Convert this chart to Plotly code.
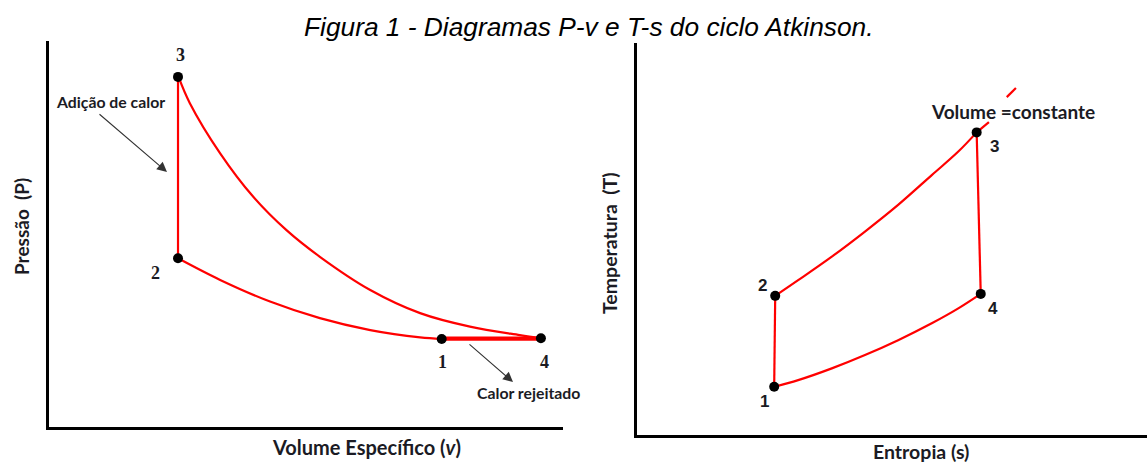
import plotly.graph_objects as go

W, H = 1147, 466

# ---------------- data (P-v diagram, arbitrary units 0..10) ----------------
pv_state_labels = ["1", "2", "3", "4"]
pv_state_v = [7.64, 2.51, 2.51, 9.57]
pv_state_p = [2.28, 4.37, 9.07, 2.30]

# 1 -> 2 isentropic compression
pv_comp_v = [2.51, 3.33, 4.30, 5.27, 6.25, 7.22, 7.64]
pv_comp_p = [4.37, 3.81, 3.25, 2.82, 2.51, 2.32, 2.28]
# 2 -> 3 constant volume heat addition
pv_heat_v = [2.51, 2.51]
pv_heat_p = [4.37, 9.07]
# 3 -> 4 isentropic expansion
pv_exp_v = [2.52, 2.74, 3.33, 3.97, 4.62, 5.27, 6.25, 7.22, 8.19, 9.16, 9.57]
pv_exp_p = [9.07, 8.39, 7.09, 5.97, 5.10, 4.41, 3.55, 2.95, 2.60, 2.38, 2.30]
# 4 -> 1 constant pressure heat rejection
pv_rej_v = [7.64, 9.57]
pv_rej_p = [2.29, 2.29]

# ---------------- data (T-s diagram, arbitrary units 0..10) ----------------
ts_state_labels = ["1", "2", "3", "4"]
ts_state_s = [2.69, 2.71, 6.66, 6.74]
ts_state_t = [1.23, 3.55, 7.72, 3.60]

ts_comp_s = [2.69, 2.71]
ts_comp_t = [1.23, 3.55]
ts_heat_s = [2.71, 3.16, 3.82, 4.47, 5.12, 5.78, 6.30, 6.66]
ts_heat_t = [3.55, 3.95, 4.55, 5.19, 5.87, 6.63, 7.23, 7.72]
ts_iso_ext_s = [6.66, 6.90]
ts_iso_ext_t = [7.72, 7.98]
ts_iso_dash_s = [7.25, 7.43]
ts_iso_dash_t = [8.62, 8.85]
ts_exp_s = [6.66, 6.74]
ts_exp_t = [7.72, 3.60]
ts_rej_s = [2.69, 3.16, 3.82, 4.47, 5.12, 5.78, 6.30, 6.74]
ts_rej_t = [1.23, 1.40, 1.70, 2.04, 2.42, 2.85, 3.23, 3.60]

RED = "#ff0000"
TXT = "#1b1b24"


def px(x):
    return x / W


def py(y):
    return 1 - y / H


fig = go.Figure()


def line(x, y, xa, ya, width=2.2, shape="spline"):
    fig.add_trace(go.Scatter(x=x, y=y, mode="lines", xaxis=xa, yaxis=ya,
                             line=dict(color=RED, width=width, shape=shape,
                                       smoothing=1.0),
                             hoverinfo="skip", showlegend=False))


# P-v
line(pv_comp_v, pv_comp_p, "x", "y")
line(pv_heat_v, pv_heat_p, "x", "y", shape="linear")
line(pv_exp_v, pv_exp_p, "x", "y")
line(pv_rej_v, pv_rej_p, "x", "y", width=4.2, shape="linear")
fig.add_trace(go.Scatter(x=pv_state_v, y=pv_state_p, mode="markers",
                         xaxis="x", yaxis="y",
                         marker=dict(color="black", size=10),
                         hoverinfo="skip", showlegend=False))

# T-s
line(ts_comp_s, ts_comp_t, "x2", "y2", shape="linear")
line(ts_heat_s, ts_heat_t, "x2", "y2")
line(ts_iso_ext_s, ts_iso_ext_t, "x2", "y2", shape="linear")
line(ts_iso_dash_s, ts_iso_dash_t, "x2", "y2", shape="linear")
line(ts_exp_s, ts_exp_t, "x2", "y2", shape="linear")
line(ts_rej_s, ts_rej_t, "x2", "y2")
fig.add_trace(go.Scatter(x=ts_state_s, y=ts_state_t, mode="markers",
                         xaxis="x2", yaxis="y2",
                         marker=dict(color="black", size=10),
                         hoverinfo="skip", showlegend=False))

ax_common = dict(showgrid=False, zeroline=False, showticklabels=False,
                 ticks="", linecolor="black", showline=True, mirror=False,
                 fixedrange=True)

fig.update_layout(
    width=W, height=H,
    margin=dict(l=0, r=0, t=0, b=0),
    paper_bgcolor="white", plot_bgcolor="white",
    xaxis=dict(domain=[px(49), px(563)], range=[0, 10], anchor="y",
               linewidth=2.6, **ax_common),
    yaxis=dict(domain=[py(427), py(41)], range=[0, 10], anchor="x",
               linewidth=2.6, **ax_common),
    xaxis2=dict(domain=[px(637), 1.0], range=[0, 10], anchor="y2",
                linewidth=3.4, **ax_common),
    yaxis2=dict(domain=[py(435), py(43)], range=[0, 10], anchor="x2",
                linewidth=3.4, **ax_common),
)

ann = []


def text(t, x, y, size, family="Lato", color=TXT, angle=0, bold=True,
         yanchor="middle"):
    ann.append(dict(text=("<b>%s</b>" % t) if bold else t,
                    x=px(x), y=py(y), xref="paper", yref="paper",
                    showarrow=False, xanchor="center", yanchor=yanchor,
                    textangle=angle,
                    font=dict(family=family, size=size, color=color)))


# title
ann.append(dict(text="<i>Figura 1 - Diagramas P-v e T-s do ciclo Atkinson.</i>",
                x=px(589), y=py(27), xref="paper", yref="paper",
                showarrow=False, xanchor="center", yanchor="middle",
                font=dict(family="Liberation Sans", size=26.3, color="black")))

# P-v texts
text("Pressão&nbsp; (P)", 22, 227, 19, angle=-90)
text("Volume Específico (<i>v</i>)", 366, 447, 20)
text("Adição de calor", 110, 101, 15.8)
text("Calor rejeitado", 528, 392, 15.8)
pv_label_pos = [(442, 362), (155, 273), (180, 55), (544, 362)]
for lab, (x, y) in zip(pv_state_labels, pv_label_pos):
    text(lab, x, y, 18, family="Liberation Serif", color="#1a1a22")

# T-s texts
text("Temperatura&nbsp; (T)", 609, 243, 19.5, angle=-90)
text("Entropia (s)", 921, 465, 19.5, yanchor="bottom")
text("Volume =constante", 1013, 111, 19)
ts_label_pos = [(764, 401), (762, 285), (995, 146), (993, 308)]
for lab, (x, y) in zip(ts_state_labels, ts_label_pos):
    text(lab, x, y, 17, family="Liberation Sans", color="#1a1a22")

# arrows
for (hx, hy, tx, ty) in [(167, 172, 98, 113), (513, 382, 468, 343)]:
    ann.append(dict(text="", x=px(hx), y=py(hy), xref="paper", yref="paper",
                    ax=tx - hx, ay=ty - hy, axref="pixel", ayref="pixel",
                    showarrow=True, arrowhead=2, arrowsize=1.8,
                    arrowwidth=1.1, arrowcolor="#333333", standoff=0))

fig.update_layout(annotations=ann)

fig.write_html("out.html")
